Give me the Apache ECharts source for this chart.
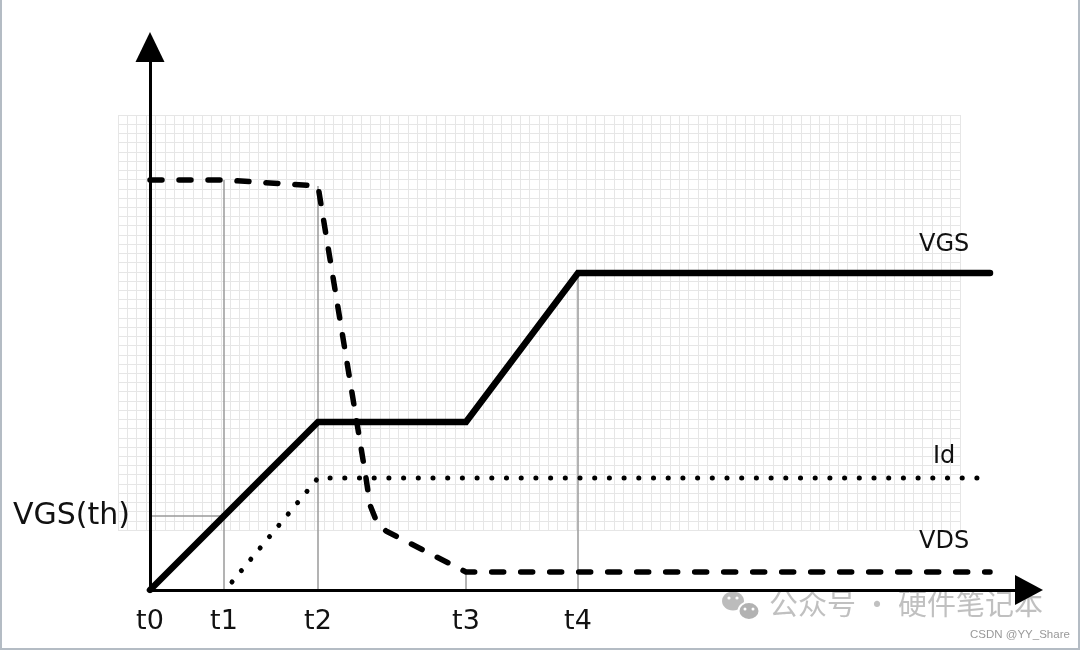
<!DOCTYPE html>
<html>
<head>
<meta charset="utf-8">
<script src="https://cdn.jsdelivr.net/npm/echarts@6/dist/echarts.min.js"></script>
<style>
html,body{margin:0;padding:0;background:#fff;}
#c{width:1080px;height:650px;}
</style>
</head>
<body>
<div id="c"></div>
<script>
// time marks (x units, 1 unit ~ 10 px)
var tickX = [0, 7.4, 16.8, 31.6, 42.8];
var tickNames = ['t0', 't1', 't2', 't3', 't4'];
var vthLevel = 7.4;

// VGS waveform
var vgsX = [0, 16.8, 31.6, 42.8, 84.0];
var vgsY = [0, 16.8, 16.8, 31.7, 31.7];

// Id waveform
var idX = [8.2, 16.8, 84.0];
var idY = [0.8, 11.2, 11.2];

// VDS waveform
var vdsX = [0, 7.4, 16.8, 21.6, 22.0, 22.6, 23.6, 31.6, 84.0];
var vdsY = [41.0, 41.0, 40.4, 11.2, 8.5, 7.0, 5.9, 1.8, 1.8];

// thin guide lines: [x0,y0,x1,y1]
var guides = [
  [7.4, 41.0, 7.4, 0],
  [16.8, 40.4, 16.8, 0],
  [31.6, 1.8, 31.6, 0],
  [42.8, 31.7, 42.8, 0],
  [0, 7.4, 7.4, 7.4]
];

function pairs(xs, ys){ return xs.map(function(x,i){ return [x, ys[i]]; }); }

var chart = echarts.init(document.getElementById('c'), null, {renderer:'canvas'});
var series = [];
guides.forEach(function(g){
  series.push({
    type:'line', xAxisIndex:0, yAxisIndex:0, symbol:'none', silent:true, z:1,
    data:[[g[0],g[1]],[g[2],g[3]]],
    lineStyle:{color:'#9a9a9a', width:1.5}
  });
});
series.push({
  name:'VDS', type:'line', xAxisIndex:0, yAxisIndex:0, symbol:'none', z:3,
  data:pairs(vdsX, vdsY),
  lineStyle:{color:'#000', width:5.5, type:[12,17], cap:'round', join:'round'}
});
series.push({
  name:'Id', type:'line', xAxisIndex:0, yAxisIndex:0, symbol:'none', z:3,
  data:pairs(idX, idY),
  lineStyle:{color:'#000', width:5, type:[0.1,14.6], cap:'round'}
});
series.push({
  name:'VGS', type:'line', xAxisIndex:0, yAxisIndex:0, symbol:'none', z:4,
  data:pairs(vgsX, vgsY),
  lineStyle:{color:'#000', width:6.5, cap:'round', join:'miter'}
});

var option = {
  animation:false,
  backgroundColor:'#fff',
  grid:[
    {left:150, right:51, top:47, bottom:60, z:2},
    {left:118, top:115, width:842, height:415, z:0}
  ],
  xAxis:[
    {type:'value', gridIndex:0, min:0, max:87.9, z:5,
     axisLine:{show:true, lineStyle:{color:'#000', width:3}, symbol:['none','triangle'], symbolSize:[30,28]},
     axisTick:{show:false}, splitLine:{show:false},
     axisLabel:{customValues:tickX, margin:18, color:'#111', fontSize:27, fontFamily:'DejaVu Sans',
       formatter:function(v){ var i = tickX.indexOf(v); return i>=0 ? tickNames[i] : ''; }}
    },
    {type:'value', gridIndex:1, min:0, max:90, interval:1, z:0,
     axisLine:{show:false}, axisTick:{show:false}, axisLabel:{show:false},
     splitLine:{show:true, lineStyle:{color:'#e6e6e6', width:1}}
    }
  ],
  yAxis:[
    {type:'value', gridIndex:0, min:0, max:54.3, z:5,
     axisLine:{show:true, lineStyle:{color:'#000', width:3}, symbol:['none','triangle'], symbolSize:[29,30]},
     axisTick:{show:false}, splitLine:{show:false},
     axisLabel:{customValues:[vthLevel], margin:20, color:'#111', fontSize:30, fontFamily:'DejaVu Sans',
       formatter:function(){ return 'VGS(th)'; }}
    },
    {type:'value', gridIndex:1, min:0, max:45, interval:1, z:0,
     axisLine:{show:false}, axisTick:{show:false}, axisLabel:{show:false},
     splitLine:{show:true, lineStyle:{color:'#e6e6e6', width:1}}
    }
  ],
  graphic:[
    {type:'text', left:919, top:233, z:10, style:{text:'VGS', fontSize:24, fontFamily:'DejaVu Sans', fill:'#111'}},
    {type:'text', left:933, top:445, z:10, style:{text:'Id', fontSize:24, fontFamily:'DejaVu Sans', fill:'#111'}},
    {type:'text', left:919, top:530, z:10, style:{text:'VDS', fontSize:24, fontFamily:'DejaVu Sans', fill:'#111'}},
    {type:'text', left:769, top:589, z:1, style:{text:'公众号 · 硬件笔记本', fontSize:29, fontFamily:'Noto Sans CJK SC', fill:'rgba(165,165,165,0.7)'}},
    {type:'text', left:970, top:629, z:10, style:{text:'CSDN @YY_Share', fontSize:11.5, fontFamily:'Liberation Sans', fill:'#999'}},
    {type:'ellipse', z:1, shape:{cx:733, cy:601, rx:11, ry:9.5}, style:{fill:'rgba(165,165,165,0.75)'}},
    {type:'circle', z:1, shape:{cx:729, cy:598, r:1.6}, style:{fill:'#fff'}},
    {type:'circle', z:1, shape:{cx:737, cy:598, r:1.6}, style:{fill:'#fff'}},
    {type:'ellipse', z:2, shape:{cx:749, cy:611, rx:10.5, ry:9}, style:{fill:'rgba(165,165,165,0.85)', stroke:'#fff', lineWidth:2}},
    {type:'circle', z:3, shape:{cx:745, cy:609, r:1.5}, style:{fill:'#fff'}},
    {type:'circle', z:3, shape:{cx:753, cy:609, r:1.5}, style:{fill:'#fff'}},
    {type:'polyline', z:20, shape:{points:[[1,0],[1,649],[1079,649],[1079,0]]}, style:{stroke:'#b4bcc4', lineWidth:2, fill:null}}
  ],
  series:series
};
chart.setOption(option);
</script>
</body>
</html>
